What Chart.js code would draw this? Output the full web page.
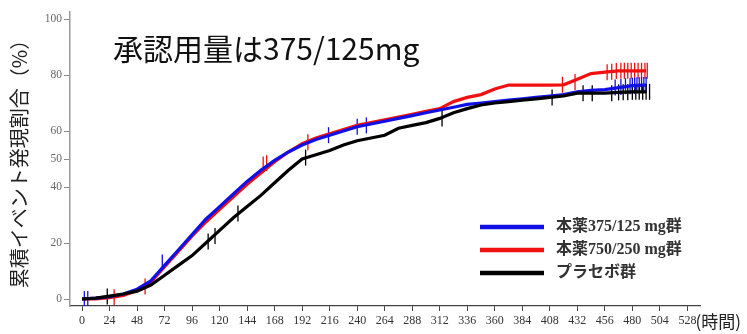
<!DOCTYPE html>
<html><head><meta charset="utf-8">
<script src="https://cdn.jsdelivr.net/npm/chart.js@4.4.0/dist/chart.umd.min.js"></script>
<style>html,body{margin:0;padding:0;background:#fff;overflow:hidden}#wrap{width:747px;height:334px;position:relative}</style>
</head><body><div id="wrap"><canvas id="c"></canvas></div>
<script>
const chartTitle = "承認用量は375/125mg";
const yTitle = "累積イベント発現割合（%）";
const xTitle = "(時間)";
const seriesLabels = ["本薬375/125 mg群", "本薬750/250 mg群", "プラセボ群"];
const xTicks = [0,24,48,72,96,120,144,168,192,216,240,264,288,312,336,360,384,408,432,456,480,504,528];
const yTicks = [0,20,40,50,60,80,100];
const hours = [0,12,24,36,48,60,72,84,96,108,120,132,144,156,168,180,192,204,216,228,240,252,264,276,288,300,312,324,336,348,360,372,384,396,408,420,432,444,456,468,480,492];
const blueValues = [0,0.3,0.8,1.8,3.5,6.5,12,17.5,23,28.5,33,37.5,42,46,49.5,52.5,55,57,58.5,60,61.5,62.5,63.5,64.5,65.5,66.5,67.5,68.5,69.5,70,70.5,71,71.5,72,72.5,73,74,74.5,74.8,75.5,76.2,76.4];
const redValues = [0,0,0.5,1.3,3,6,11.5,17,22.5,27.5,32,36.5,41,45,49,52.5,55.5,57.5,59,60.5,62,63,64,65,66,67,68,70.5,72,73,75,76.4,76.4,76.4,76.4,76.5,78.5,80.5,81,81.5,81.5,81.5];
const blackValues = [0,0.3,1,1.8,2.8,5,8.5,12,15.5,20,24.5,29,33,37,41.5,46,50,51.5,53,55,56.5,57.5,58.5,61,62,63,64.5,66.5,68,69.3,70,70.5,71,71.5,72,72.5,73.5,73.5,73.5,73.8,74,74];
const blueCensorH = [2,5,70,215,240,248,465,470,474,478,480,482,484,486,488,490,492];
const blueCensorV = [0,0,13,58.5,61.5,62,75.5,75.7,76,76,76.2,76.2,76.3,76.3,76.4,76.4,76.4];
const redCensorH = [28,55,158,161,197,419,430,458,462,466,470,473,476,479,482,485,488,491,493];
const redCensorV = [0.6,4.5,48,48.5,56,76.5,77.5,81,81.2,81.4,81.5,81.5,81.5,81.5,81.5,81.5,81.5,81.5,81.5];
const blackCensorH = [22,110,116,136,195,314,410,437,445,462,468,472,476,480,483,486,489,492,495];
const blackCensorV = [0.9,20.5,22.5,30.5,50.5,64.5,72,73.5,73.5,73.5,73.8,73.8,73.8,74,74,74,74,74,74];

const colors = ['#1010e6', '#f01010', '#000000'];
const pts = (xs, ys) => xs.map((x, i) => ({x: x, y: ys[i]}));
const lineDs = (vals, c) => ({type:'line', data: pts(hours, vals), borderColor: c, borderWidth: 3.2, pointRadius: 0, tension: 0, fill: false});
const censorDs = (xs, ys, c) => ({type:'scatter', data: pts(xs, ys), borderColor: c, backgroundColor: c, pointStyle: 'line', rotation: 90, pointRadius: 8, borderWidth: 1.3, showLine: false});

const textPlugin = {
  id: 'texts',
  afterDraw(chart) {
    const ctx = chart.ctx;
    const xs = chart.scales.x;
    ctx.save();
    ctx.fillStyle = '#111';
    ctx.font = '30px "Noto Sans CJK JP"';
    ctx.textBaseline = 'middle';
    ctx.textAlign = 'left';
    ctx.fillText(chartTitle, 113, 49);
    ctx.fillStyle = '#222';
    ctx.font = '17px "Noto Sans CJK JP"';
    ctx.fillText(xTitle, xs.getPixelForValue(528) + 8, 322);
    const rowY = [227, 250, 273];
    ctx.font = 'bold 16px "Liberation Serif", "Noto Sans CJK JP"';
    seriesLabels.forEach((lab, i) => {
      ctx.strokeStyle = colors[i];
      ctx.lineWidth = 4.5;
      ctx.beginPath();
      ctx.moveTo(480, rowY[i]);
      ctx.lineTo(544, rowY[i]);
      ctx.stroke();
      ctx.fillStyle = '#333';
      ctx.fillText(lab, 556, rowY[i]);
    });
    ctx.restore();
  }
};

new Chart(document.getElementById('c'), {
  data: {
    datasets: [
      lineDs(blackValues, colors[2]),
      lineDs(blueValues, colors[0]),
      lineDs(redValues, colors[1]),
      censorDs(blackCensorH, blackCensorV, colors[2]),
      censorDs(blueCensorH, blueCensorV, colors[0]),
      censorDs(redCensorH, redCensorV, colors[1])
    ]
  },
  options: {
    responsive: true,
    maintainAspectRatio: false,
    animation: false,
    layout: {padding: {top: 12, right: 47, left: 0, bottom: 0}},
    plugins: {legend: {display: false}, tooltip: {enabled: false}, title: {display: false}},
    scales: {
      x: {
        type: 'linear', min: -10.5, max: 539,
        afterBuildTicks: s => { s.ticks = xTicks.map(v => ({value: v})); },
        afterFit: s => { s.height = 28; },
        border: {color: '#444', width: 1.2},
        grid: {drawOnChartArea: false, drawTicks: true, tickLength: 5, color: '#444'},
        ticks: {color: '#333', font: {family: 'Liberation Serif', size: 12}, padding: 3, maxRotation: 0, autoSkip: false}
      },
      y: {
        type: 'linear', min: -2.5, max: 102.5,
        afterBuildTicks: s => { s.ticks = yTicks.map(v => ({value: v})); },
        afterFit: s => { s.width = 70; },
        border: {color: '#999', width: 1.5},
        grid: {drawOnChartArea: false, drawTicks: true, tickLength: 6, color: '#888'},
        ticks: {color: '#666', font: {family: 'Liberation Serif', size: 11.5}, padding: 2, autoSkip: false},
        title: {display: true, text: yTitle, color: '#222', font: {family: 'Noto Sans CJK JP', size: 20}, padding: {top: 7, bottom: 0}}
      }
    }
  },
  plugins: [textPlugin]
});
</script></body></html>
